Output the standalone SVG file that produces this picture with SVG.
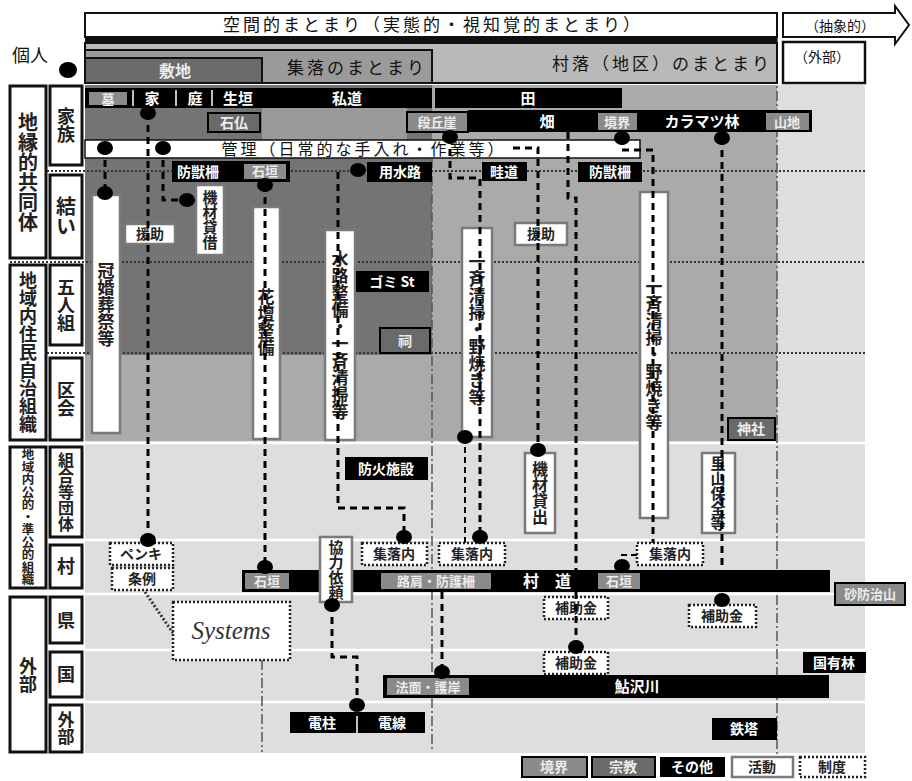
<svg xmlns="http://www.w3.org/2000/svg" width="912" height="781" viewBox="0 0 912 781">
<defs>
<style>
text{font-family:"Noto Sans CJK JP","Noto Sans CJK SC",sans-serif;}
.t{font-size:15px;fill:#111;text-anchor:middle;}
.w{font-size:15px;fill:#fff;text-anchor:middle;font-weight:bold;}
.g{font-size:13px;fill:#ececec;text-anchor:middle;font-weight:bold;}
.d{font-size:14px;fill:#222;text-anchor:middle;font-weight:bold;}
.v{writing-mode:vertical-rl;text-anchor:middle;font-size:17px;fill:#222;font-weight:bold;}
.blk{fill:#000;}
.gbox{fill:#8a8a8a;stroke:#000;stroke-width:2;}
.dbox{fill:#6a6a6a;stroke:#000;stroke-width:2;}
.act{fill:#fff;stroke:#7a7a7a;stroke-width:2.5;}
.sys{fill:#fff;stroke:#222;stroke-width:2.5;stroke-dasharray:2 2;}
.lab{fill:#fff;stroke:#111;stroke-width:3;}
.dash{fill:none;stroke:#000;stroke-width:3;stroke-dasharray:7 5;}
.thin{fill:none;stroke:#000;stroke-width:2;stroke-dasharray:6 4;}
.dd{fill:none;stroke:#555;stroke-width:1.5;stroke-dasharray:10 3 2 3;}
.dot{fill:none;stroke:#333;stroke-width:2;stroke-dasharray:2 2;}
.sep{stroke:#fff;stroke-width:2.5;}
.nd{fill:#000;}
</style>
</defs>
<rect width="912" height="781" fill="#fff"/>
<g id="background">
<rect x="85" y="85" width="780" height="668" fill="#dedede"/>
<rect x="85" y="85" width="692" height="356" fill="#aaaaaa"/>
<rect x="85" y="85" width="347" height="270" fill="#747474"/>
<rect x="262" y="108" width="145" height="32" fill="#9a9a9a"/>
<line class="sep" x1="85" y1="443" x2="865" y2="443"/>
<line class="sep" x1="85" y1="540" x2="865" y2="540"/>
<line class="sep" x1="85" y1="594" x2="865" y2="594"/>
<line class="sep" x1="85" y1="650" x2="865" y2="650"/>
<line class="sep" x1="85" y1="702" x2="865" y2="702"/>
<line class="dot" x1="47" y1="171" x2="865" y2="171"/>
<line class="dot" x1="10" y1="262" x2="865" y2="262"/>
<line class="dot" x1="47" y1="353" x2="865" y2="353"/>
<line class="dd" x1="432" y1="140" x2="432" y2="752"/>
<line class="dd" x1="777" y1="37" x2="777" y2="755"/>
<line class="dd" x1="262" y1="660" x2="262" y2="752"/>
</g>
<g id="header">
<rect x="85" y="13" width="692" height="24" fill="#fff" stroke="#111" stroke-width="2"/>
<rect x="85" y="37" width="692" height="6" fill="#111"/>
<text class="t" x="433" y="31" style="font-size:17px;letter-spacing:3px">空間的まとまり（実態的・視知覚的まとまり）</text>
<polygon points="783,13 895,13 895,6 909,25 895,44 895,37 783,37" fill="#fff" stroke="#111" stroke-width="2"/>
<text class="t" x="840" y="31" style="font-size:14px">（抽象的）</text>
</g>
<g id="sonraku">
<rect x="85" y="43" width="692" height="40" fill="#b9b9b9" stroke="#111" stroke-width="2"/>
<text class="t" x="772" y="70" style="font-size:17px;letter-spacing:3px;text-anchor:end">村落（地区）のまとまり</text>
</g>
<g id="shuraku">
<rect x="85" y="50" width="347" height="33" fill="#9a9a9a" stroke="#111" stroke-width="2"/>
<text class="t" x="357" y="74" style="font-size:17px;letter-spacing:3px">集落のまとまり</text>
</g>
<g id="shikichi">
<rect x="85" y="58" width="177" height="25" fill="#6a6a6a" stroke="#111" stroke-width="2"/>
<text class="g" x="175" y="77" style="font-size:16px">敷地</text>
</g>
<g id="gaibu-top">
<rect x="783" y="42" width="82" height="41" fill="#fff" stroke="#111" stroke-width="2.5"/>
<text class="t" x="822" y="62" style="font-size:14px">（外部）</text>
</g>
<g id="kojin">
<text class="t" x="30" y="62" style="font-size:18px">個人</text>
</g>
<g id="axis">
<rect class="lab" x="10" y="86" width="36" height="172"/>
<text class="v" x="28" y="172" style="font-size:20px">地縁的共同体</text>
<rect class="lab" x="50" y="86" width="32" height="79"/>
<text class="v" x="66" y="125" style="font-size:18px">家族</text>
<rect class="lab" x="50" y="175" width="32" height="83"/>
<text class="v" x="66" y="216" style="font-size:20px">結い</text>
<rect class="lab" x="10" y="265" width="36" height="175"/>
<text class="v" x="28" y="352" style="font-size:18px">地域内住民自治組織</text>
<rect class="lab" x="50" y="265" width="32" height="80"/>
<text class="v" x="66" y="305" style="font-size:18px">五人組</text>
<rect class="lab" x="50" y="358" width="32" height="82"/>
<text class="v" x="66" y="399" style="font-size:18px">区会</text>
<rect class="lab" x="10" y="447" width="36" height="141"/>
<text class="v" x="28" y="517" style="font-size:12.5px">地域内公的・準公的組織</text>
<rect class="lab" x="50" y="447" width="32" height="90"/>
<text class="v" x="66" y="492" style="font-size:16px">組合等団体</text>
<rect class="lab" x="50" y="545" width="32" height="43"/>
<text class="v" x="66" y="566" style="font-size:18px">村</text>
<rect class="lab" x="10" y="597" width="36" height="155"/>
<text class="v" x="28" y="675" style="font-size:18px">外部</text>
<rect class="lab" x="50" y="597" width="32" height="46"/>
<text class="v" x="66" y="620" style="font-size:18px">県</text>
<rect class="lab" x="50" y="652" width="32" height="45"/>
<text class="v" x="66" y="674" style="font-size:18px">国</text>
<rect class="lab" x="50" y="705" width="32" height="47"/>
<text class="v" x="66" y="728" style="font-size:17px">外部</text>
</g>
<g id="row-ie">
<rect class="blk" x="85" y="88" width="347" height="20"/>
<rect class="gbox" x="88" y="91" width="40" height="15"/>
<text class="g" x="108" y="104">墓</text>
<line class="sep" x1="133" y1="90" x2="133" y2="106" style="stroke-width:1.5"/>
<line class="sep" x1="176" y1="90" x2="176" y2="106" style="stroke-width:1.5"/>
<line class="sep" x1="212" y1="90" x2="212" y2="106" style="stroke-width:1.5"/>
<text class="w" x="152" y="104">家</text>
<text class="w" x="195" y="104">庭</text>
<text class="w" x="238" y="104">生垣</text>
<text class="w" x="347" y="104">私道</text>
</g>
<g id="ta">
<rect class="blk" x="435" y="88" width="187" height="20"/>
<text class="w" x="528" y="104">田</text>
</g>
<g id="hatake">
<rect class="blk" x="468" y="110" width="344" height="22"/>
<text class="w" x="547" y="127">畑</text>
<rect class="gbox" x="597" y="112" width="41" height="19"/>
<text class="g" x="617" y="127">境界</text>
<text class="w" x="702" y="127">カラマツ林</text>
<rect class="gbox" x="765" y="112" width="45" height="19"/>
<text class="g" x="787" y="127">山地</text>
</g>
<g id="sekibutsu">
<rect class="dbox" x="208" y="113" width="52" height="19"/>
<text class="g" x="234" y="128" style="font-size:14px">石仏</text>
</g>
<g id="dankyugai">
<rect class="gbox" x="407" y="112" width="61" height="20"/>
<text class="g" x="437" y="127">段丘崖</text>
</g>
<g id="kanri">
<rect x="85" y="140" width="555" height="18" fill="#fff" stroke="#111" stroke-width="1.5"/>
<text class="t" x="364" y="155" style="font-size:16px;letter-spacing:3px">管理（日常的な手入れ・作業等）</text>
</g>
<g id="bojusaku1">
<rect class="blk" x="172" y="161" width="118" height="21"/>
<text class="w" x="198" y="177" style="font-size:14px">防獣柵</text>
<rect class="gbox" x="243" y="163" width="44" height="17"/>
<text class="g" x="265" y="176">石垣</text>
</g>
<g id="yosuiro">
<rect class="blk" x="367" y="162" width="65" height="20"/>
<text class="w" x="400" y="177" style="font-size:14px">用水路</text>
</g>
<g id="azemichi">
<rect class="blk" x="482" y="162" width="45" height="19"/>
<text class="w" x="504" y="177" style="font-size:14px">畦道</text>
</g>
<g id="bojusaku2">
<rect class="blk" x="578" y="162" width="64" height="20"/>
<text class="w" x="610" y="177" style="font-size:14px">防獣柵</text>
</g>
<g id="konso">
<rect class="act" x="92" y="195" width="28" height="238"/>
<text class="v" x="106" y="305">冠婚葬祭等</text>
</g>
<g id="enjo1">
<rect class="act" x="125" y="224" width="50" height="20"/>
<text class="d" x="150" y="239">援助</text>
</g>
<g id="kizai-taishaku">
<rect class="act" x="196" y="185" width="28" height="70"/>
<text class="v" x="210" y="220" style="font-size:15px">機材貸借</text>
</g>
<g id="kadan">
<rect class="act" x="253" y="207" width="27" height="232"/>
<text class="v" x="266" y="322">花壇整備</text>
</g>
<g id="suiro">
<rect class="act" x="325" y="230" width="30" height="210"/>
<text class="v" x="340" y="335">水路整備・一斉清掃等</text>
</g>
<g id="gomi">
<rect class="blk" x="356" y="271" width="73" height="21"/>
<text class="w" x="392" y="287" style="font-size:14px">ゴミ St</text>
</g>
<g id="hokora">
<rect class="dbox" x="380" y="328" width="50" height="25"/>
<text class="g" x="405" y="346" style="font-size:14px">祠</text>
</g>
<g id="seiso1">
<rect class="act" x="462" y="228" width="30" height="209"/>
<text class="v" x="477" y="330">一斉清掃・野焼き等</text>
</g>
<g id="enjo2">
<rect class="act" x="515" y="223" width="52" height="22"/>
<text class="d" x="541" y="239">援助</text>
</g>
<g id="seiso2">
<rect class="act" x="640" y="192" width="28" height="326"/>
<text class="v" x="654" y="355">一斉清掃・野焼き等</text>
</g>
<g id="jinja">
<rect class="dbox" x="728" y="418" width="47" height="22"/>
<text class="g" x="751" y="434" style="font-size:14px">神社</text>
</g>
<g id="boka">
<rect class="blk" x="345" y="457" width="83" height="23"/>
<text class="w" x="386" y="474" style="font-size:14px">防火施設</text>
</g>
<g id="kizai-kashidashi">
<rect class="act" x="525" y="453" width="30" height="80"/>
<text class="v" x="540" y="493" style="font-size:16px">機材貸出</text>
</g>
<g id="satoyama">
<rect class="act" x="702" y="453" width="33" height="80"/>
<text class="v" x="718" y="493" style="font-size:15px">里山保全等</text>
</g>
<g id="penki">
<rect class="sys" x="110" y="543" width="63" height="22"/>
<text class="d" x="141" y="559">ペンキ</text>
</g>
<g id="jorei">
<rect class="sys" x="112" y="568" width="61" height="22"/>
<text class="d" x="142" y="584">条例</text>
</g>
<g id="shurakunai1">
<rect class="sys" x="362" y="543" width="65" height="22"/>
<text class="d" x="394" y="559">集落内</text>
</g>
<g id="shurakunai2">
<rect class="sys" x="439" y="543" width="66" height="22"/>
<text class="d" x="472" y="559">集落内</text>
</g>
<g id="shurakunai3">
<rect class="sys" x="637" y="543" width="66" height="22"/>
<text class="d" x="670" y="559">集落内</text>
</g>
<g id="sondo">
<rect class="blk" x="242" y="570" width="588" height="22"/>
<rect class="gbox" x="244" y="572" width="46" height="18"/>
<text class="g" x="267" y="586">石垣</text>
<rect class="gbox" x="380" y="572" width="112" height="18"/>
<text class="g" x="436" y="586">路肩・防護柵</text>
<text class="w" x="547" y="587" style="font-size:16px">村　道</text>
<rect class="gbox" x="597" y="572" width="44" height="18"/>
<text class="g" x="619" y="586">石垣</text>
</g>
<g id="kyoryoku">
<rect class="act" x="320" y="537" width="32" height="65"/>
<text class="v" x="336" y="570" style="font-size:15px">協力依頼</text>
</g>
<g id="sabo">
<rect class="gbox" x="835" y="583" width="70" height="22"/>
<text class="g" x="870" y="599">砂防治山</text>
</g>
<g id="hojokin1">
<rect class="sys" x="544" y="597" width="64" height="22"/>
<text class="d" x="576" y="613">補助金</text>
</g>
<g id="hojokin2">
<rect class="sys" x="544" y="652" width="64" height="22"/>
<text class="d" x="576" y="668">補助金</text>
</g>
<g id="hojokin3">
<rect class="sys" x="689" y="605" width="67" height="22"/>
<text class="d" x="722" y="621">補助金</text>
</g>
<g id="systems">
<rect class="sys" x="173" y="602" width="117" height="58"/>
<text x="231" y="639" style="font-family:'Liberation Serif',serif;font-style:italic;font-size:25px;fill:#333;text-anchor:middle">Systems</text>
</g>
<g id="kokuyurin">
<rect class="blk" x="803" y="652" width="63" height="21"/>
<text class="w" x="834" y="668" style="font-size:14px">国有林</text>
</g>
<g id="ayuzawa">
<rect class="blk" x="383" y="675" width="446" height="23"/>
<rect class="gbox" x="386" y="677" width="84" height="19"/>
<text class="g" x="428" y="692">法面・護岸</text>
<text class="w" x="637" y="692">鮎沢川</text>
</g>
<g id="denchu">
<rect class="blk" x="290" y="712" width="135" height="21"/>
<line x1="357" y1="716" x2="357" y2="733" stroke="#fff" stroke-width="1.5"/>
<text class="w" x="322" y="728" style="font-size:14px">電柱</text>
<text class="w" x="392" y="728" style="font-size:14px">電線</text>
</g>
<g id="tetto">
<rect class="blk" x="712" y="718" width="65" height="22"/>
<text class="w" x="744" y="734" style="font-size:14px">鉄塔</text>
</g>
<g id="legend">
<rect class="gbox" x="522" y="757" width="65" height="20"/>
<text class="g" x="554" y="772" style="font-size:14px">境界</text>
<rect class="dbox" x="592" y="757" width="63" height="20"/>
<text class="g" x="623" y="772" style="font-size:14px">宗教</text>
<rect class="blk" x="660" y="757" width="65" height="20"/>
<text class="w" x="692" y="772" style="font-size:14px">その他</text>
<rect class="act" x="732" y="757" width="61" height="20"/>
<text class="d" x="762" y="772">活動</text>
<rect class="sys" x="800" y="757" width="65" height="20"/>
<text class="d" x="832" y="772">制度</text>
</g>
<g id="connectors">
<path class="dash" d="M148,113 V540"/>
<path class="dash" d="M105,148 V193"/>
<path class="dash" d="M163,148 V200 H180"/>
<path class="dash" d="M265,185 V567"/>
<path class="dash" d="M338,172 V508 H404 V537"/>
<path class="dash" d="M450,137 V178 H480 V537"/>
<path class="thin" d="M465,437 V543"/>
<path class="dash" d="M513,148 H538 V450"/>
<path class="dash" d="M568,132 V198 H576 V647"/>
<path class="dash" d="M622,138 V150 H653 V543"/>
<path class="thin" d="M622,566 V555 H637"/>
<path class="dash" d="M722,138 V600"/>
<path class="dash" d="M442,592 V672"/>
<path class="dash" d="M332,605 V657 H357 V705"/>
<path class="dot" d="M145,592 L173,633" style="stroke-width:3"/>
<ellipse class="nd" cx="68" cy="70" rx="9" ry="8"/>
<ellipse class="nd" cx="148" cy="113" rx="8" ry="7"/>
<ellipse class="nd" cx="105" cy="148" rx="8" ry="7"/>
<ellipse class="nd" cx="163" cy="148" rx="8" ry="7"/>
<ellipse class="nd" cx="105" cy="193" rx="8" ry="7"/>
<ellipse class="nd" cx="187" cy="200" rx="8" ry="7"/>
<ellipse class="nd" cx="265" cy="185" rx="8" ry="7"/>
<ellipse class="nd" cx="358" cy="170" rx="8" ry="7"/>
<ellipse class="nd" cx="450" cy="137" rx="8" ry="7"/>
<ellipse class="nd" cx="622" cy="138" rx="8" ry="7"/>
<ellipse class="nd" cx="722" cy="138" rx="8" ry="7"/>
<ellipse class="nd" cx="465" cy="437" rx="8" ry="7"/>
<ellipse class="nd" cx="480" cy="537" rx="8" ry="7"/>
<ellipse class="nd" cx="404" cy="537" rx="8" ry="7"/>
<ellipse class="nd" cx="538" cy="450" rx="8" ry="7"/>
<ellipse class="nd" cx="265" cy="567" rx="8" ry="7"/>
<ellipse class="nd" cx="148" cy="540" rx="8" ry="7"/>
<ellipse class="nd" cx="622" cy="566" rx="8" ry="7"/>
<ellipse class="nd" cx="332" cy="605" rx="8" ry="7"/>
<ellipse class="nd" cx="357" cy="705" rx="8" ry="7"/>
<ellipse class="nd" cx="442" cy="672" rx="8" ry="7"/>
<ellipse class="nd" cx="576" cy="647" rx="8" ry="7"/>
<ellipse class="nd" cx="722" cy="600" rx="8" ry="7"/>
</g>
</svg>
